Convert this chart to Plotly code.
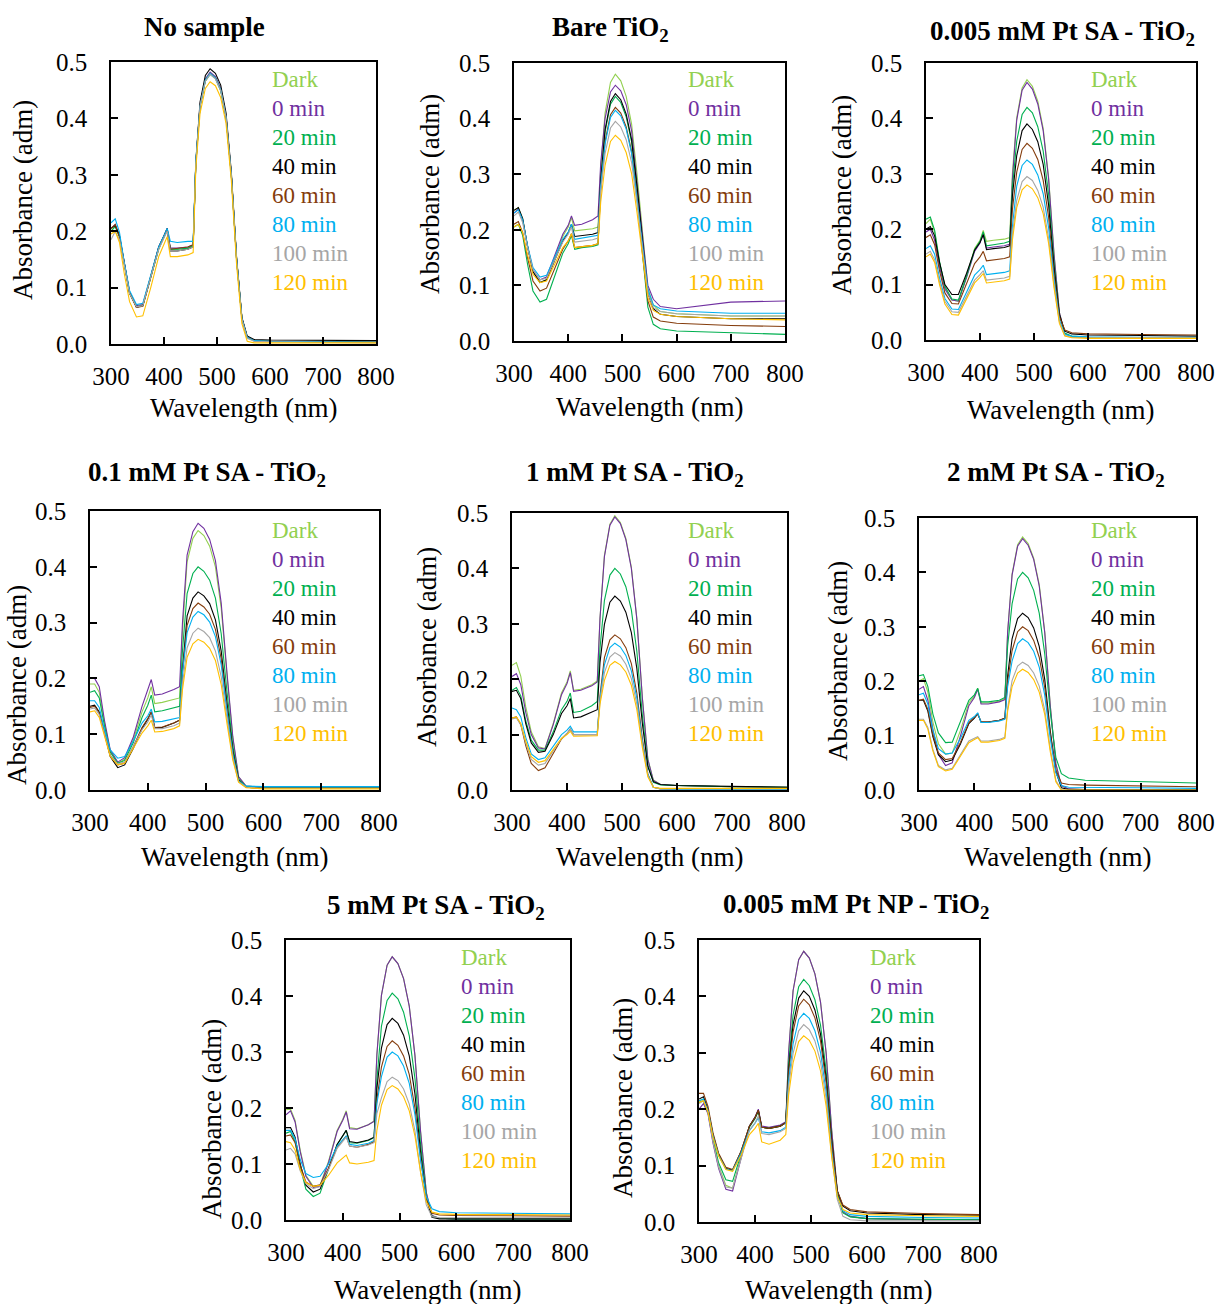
import plotly.graph_objects as go

# ---------------- data ----------------
WL = [300, 308, 316, 325, 335, 348, 360, 375, 390, 400, 406, 412, 425, 445, 455,
      460, 468, 478, 487, 497, 507, 517, 527, 537, 547, 557, 570, 600, 700, 800]

SERIES = ["Dark", "0 min", "20 min", "40 min", "60 min", "80 min", "100 min", "120 min"]
COLORS = ["#92D050", "#7030A0", "#00B050", "#000000", "#843C0C", "#00B0F0", "#A6A6A6", "#FFC000"]

TITLES = ["No sample", "Bare TiO<sub>2</sub>", "0.005 mM Pt SA - TiO<sub>2</sub>",
          "0.1 mM Pt SA - TiO<sub>2</sub>", "1 mM Pt SA - TiO<sub>2</sub>", "2 mM Pt SA - TiO<sub>2</sub>",
          "5 mM Pt SA - TiO<sub>2</sub>", "0.005 mM Pt NP - TiO<sub>2</sub>"]

X_TICKS = [300, 400, 500, 600, 700, 800]
Y_TICKS = [0.0, 0.1, 0.2, 0.3, 0.4, 0.5]

NO_SAMPLE = [
    [.200, .210, .190, .140, .090, .066, .068, .118, .170, .190, .203, .168, .168, .170, .175, .320, .422, .468, .480, .472, .451, .403, .300, .150, .045, .012, .006, .005, .004, .003],
    [.205, .212, .192, .142, .092, .068, .070, .120, .172, .192, .205, .170, .170, .172, .176, .320, .424, .470, .482, .474, .453, .405, .302, .150, .045, .012, .006, .005, .004, .003],
    [.200, .208, .190, .140, .090, .066, .068, .118, .168, .190, .202, .168, .168, .170, .175, .318, .421, .466, .478, .471, .449, .402, .300, .150, .045, .012, .006, .005, .004, .003],
    [.205, .210, .192, .142, .092, .065, .068, .120, .172, .192, .205, .165, .165, .168, .172, .322, .429, .476, .488, .480, .459, .410, .305, .153, .047, .014, .008, .007, .006, .006],
    [.205, .212, .190, .140, .090, .065, .067, .118, .170, .190, .203, .168, .170, .172, .176, .320, .422, .468, .480, .472, .451, .403, .300, .150, .045, .012, .006, .005, .004, .003],
    [.215, .222, .198, .145, .095, .070, .072, .122, .172, .192, .205, .182, .180, .182, .182, .325, .422, .468, .480, .472, .451, .403, .300, .150, .045, .012, .006, .005, .004, .003],
    [.185, .200, .185, .138, .090, .066, .068, .118, .168, .188, .200, .165, .165, .168, .172, .318, .421, .466, .478, .470, .449, .402, .298, .148, .043, .010, .005, .004, .003, .002],
    [.195, .200, .180, .125, .075, .048, .050, .100, .155, .178, .190, .155, .155, .158, .162, .310, .409, .453, .465, .458, .437, .391, .290, .140, .036, .005, .002, .002, .002, .002],
]

BARE_TIO2 = [
    [.235, .240, .220, .170, .125, .105, .110, .150, .188, .205, .222, .198, .200, .202, .205, .310, .410, .465, .480, .468, .440, .390, .300, .190, .095, .065, .053, .049, .045, .045],
    [.230, .238, .218, .170, .128, .110, .115, .153, .192, .208, .225, .208, .210, .218, .225, .320, .400, .448, .460, .450, .425, .378, .290, .190, .100, .075, .062, .058, .070, .072],
    [.205, .210, .190, .138, .090, .070, .075, .115, .158, .175, .190, .165, .168, .170, .173, .280, .376, .426, .440, .429, .403, .358, .275, .157, .061, .030, .022, .018, .015, .012],
    [.235, .240, .220, .170, .125, .105, .110, .145, .180, .195, .210, .188, .190, .192, .195, .290, .380, .431, .445, .434, .408, .362, .278, .176, .086, .058, .048, .044, .040, .040],
    [.210, .215, .195, .150, .108, .090, .095, .130, .165, .180, .193, .168, .170, .172, .175, .270, .359, .407, .420, .410, .385, .341, .263, .160, .072, .043, .036, .032, .028, .026],
    [.230, .236, .218, .172, .132, .115, .118, .150, .183, .196, .210, .183, .185, .188, .190, .280, .354, .402, .415, .405, .381, .337, .259, .173, .093, .065, .058, .054, .050, .050],
    [.225, .232, .213, .168, .128, .110, .113, .145, .178, .192, .205, .178, .180, .182, .185, .270, .337, .383, .395, .385, .362, .321, .247, .163, .086, .060, .053, .049, .045, .045],
    [.205, .210, .195, .155, .120, .105, .108, .138, .168, .180, .193, .168, .170, .172, .175, .250, .316, .359, .370, .361, .339, .301, .231, .151, .078, .055, .048, .044, .040, .038],
]

PT_SA_0005 = [
    [.210, .218, .195, .140, .095, .072, .070, .115, .165, .180, .198, .178, .180, .182, .185, .300, .401, .455, .470, .458, .431, .382, .294, .157, .050, .012, .006, .004, .003, .003],
    [.195, .200, .180, .132, .092, .072, .070, .112, .160, .175, .192, .166, .168, .170, .173, .290, .397, .451, .465, .453, .426, .378, .291, .155, .050, .012, .006, .004, .003, .003],
    [.218, .222, .198, .142, .097, .074, .072, .115, .163, .178, .195, .170, .172, .175, .178, .275, .359, .407, .420, .410, .385, .341, .263, .140, .045, .012, .007, .005, .004, .004],
    [.200, .205, .188, .140, .100, .082, .082, .120, .162, .176, .190, .163, .165, .167, .170, .260, .333, .378, .390, .380, .358, .317, .244, .132, .046, .016, .011, .009, .008, .007],
    [.185, .190, .172, .125, .085, .066, .065, .100, .138, .150, .160, .143, .145, .147, .150, .235, .303, .344, .355, .346, .326, .288, .222, .120, .042, .018, .013, .011, .010, .009],
    [.165, .170, .155, .112, .075, .056, .055, .085, .117, .127, .135, .118, .120, .122, .125, .205, .278, .315, .325, .317, .298, .264, .203, .110, .036, .010, .007, .006, .005, .005],
    [.155, .160, .145, .105, .070, .051, .050, .078, .108, .118, .125, .108, .110, .112, .115, .190, .252, .286, .295, .288, .270, .240, .184, .100, .033, .008, .005, .005, .004, .004],
    [.150, .155, .140, .100, .065, .046, .045, .073, .103, .113, .120, .103, .105, .107, .110, .180, .239, .271, .280, .273, .257, .228, .175, .095, .030, .007, .004, .003, .003, .003],
]

PT_SA_01 = [
    [.190, .190, .175, .120, .070, .048, .055, .090, .140, .165, .185, .155, .157, .162, .165, .285, .409, .451, .465, .456, .437, .400, .326, .205, .093, .023, .007, .005, .004, .004],
    [.200, .200, .185, .125, .072, .050, .058, .095, .150, .178, .198, .170, .172, .180, .185, .300, .421, .463, .478, .469, .449, .411, .335, .210, .096, .024, .007, .005, .004, .004],
    [.175, .178, .165, .115, .068, .048, .053, .085, .130, .152, .170, .140, .142, .147, .150, .250, .352, .388, .400, .392, .376, .344, .280, .176, .080, .020, .006, .004, .004, .004],
    [.150, .152, .140, .100, .060, .040, .045, .075, .110, .127, .140, .112, .112, .120, .125, .215, .312, .344, .355, .348, .334, .305, .249, .156, .071, .018, .005, .003, .003, .003],
    [.148, .150, .138, .100, .062, .045, .048, .078, .112, .128, .140, .112, .113, .120, .125, .210, .295, .325, .335, .328, .315, .288, .235, .147, .067, .017, .005, .003, .003, .003],
    [.160, .160, .148, .108, .072, .057, .060, .088, .120, .133, .145, .122, .123, .127, .130, .210, .282, .310, .320, .314, .301, .275, .224, .141, .064, .016, .007, .006, .006, .006],
    [.145, .147, .135, .098, .062, .047, .050, .078, .108, .122, .135, .110, .110, .115, .120, .190, .255, .281, .290, .284, .273, .249, .203, .128, .058, .015, .005, .003, .003, .003],
    [.140, .142, .130, .095, .060, .045, .048, .075, .102, .115, .125, .104, .105, .110, .115, .180, .238, .262, .270, .265, .254, .232, .189, .119, .054, .014, .004, .002, .002, .002],
]

PT_SA_1 = [
    [.225, .230, .205, .150, .105, .078, .075, .120, .175, .195, .215, .180, .182, .190, .197, .310, .423, .480, .495, .483, .454, .402, .310, .167, .056, .018, .010, .008, .006, .005],
    [.205, .210, .190, .140, .100, .076, .074, .118, .172, .192, .212, .178, .180, .188, .195, .310, .421, .478, .493, .481, .452, .400, .308, .166, .055, .017, .010, .008, .006, .005],
    [.180, .185, .170, .125, .090, .072, .072, .105, .145, .160, .175, .140, .142, .152, .160, .256, .342, .388, .400, .390, .367, .325, .250, .135, .045, .014, .009, .008, .006, .005],
    [.178, .180, .165, .120, .085, .068, .070, .100, .138, .152, .165, .130, .132, .140, .145, .230, .299, .339, .350, .341, .321, .284, .219, .120, .042, .015, .010, .008, .006, .005],
    [.130, .132, .118, .080, .048, .035, .040, .065, .092, .102, .110, .100, .100, .100, .100, .170, .239, .271, .280, .273, .257, .228, .175, .093, .029, .005, .002, .001, .001, .001],
    [.148, .145, .132, .095, .065, .055, .058, .080, .100, .108, .115, .105, .105, .105, .105, .165, .226, .257, .265, .258, .243, .215, .166, .088, .028, .005, .002, .001, .001, .001],
    [.128, .130, .118, .085, .055, .045, .048, .070, .093, .102, .110, .100, .100, .100, .100, .160, .212, .240, .248, .242, .227, .201, .155, .083, .026, .005, .002, .002, .002, .002],
    [.130, .132, .120, .088, .060, .050, .053, .073, .093, .100, .106, .097, .097, .097, .098, .155, .198, .225, .232, .226, .213, .189, .145, .077, .024, .005, .003, .003, .003, .003],
]

PT_SA_2 = [
    [.200, .205, .180, .125, .085, .066, .068, .110, .160, .172, .187, .160, .160, .163, .168, .290, .397, .451, .465, .453, .426, .378, .291, .155, .048, .008, .002, .001, .001, .001],
    [.185, .190, .165, .112, .065, .045, .050, .100, .155, .170, .185, .158, .158, .162, .166, .290, .395, .448, .462, .450, .424, .375, .289, .154, .048, .008, .002, .001, .001, .001],
    [.210, .212, .190, .140, .105, .087, .088, .125, .165, .175, .187, .162, .162, .165, .170, .265, .342, .388, .400, .390, .367, .325, .250, .143, .060, .030, .022, .018, .016, .013],
    [.165, .165, .145, .098, .065, .052, .055, .085, .122, .132, .140, .125, .125, .128, .132, .210, .278, .315, .325, .317, .298, .264, .203, .108, .034, .004, .001, .001, .001, .001],
    [.165, .167, .148, .102, .068, .056, .058, .088, .124, .133, .140, .125, .125, .128, .132, .200, .256, .291, .300, .293, .275, .244, .188, .103, .037, .013, .010, .009, .008, .006],
    [.175, .178, .158, .110, .076, .066, .068, .095, .128, .135, .142, .124, .124, .127, .130, .190, .237, .269, .278, .271, .255, .226, .174, .094, .032, .008, .005, .005, .004, .003],
    [.130, .130, .115, .075, .045, .037, .040, .065, .090, .095, .098, .090, .090, .093, .097, .150, .201, .228, .235, .229, .215, .191, .147, .075, .018, .000, .000, .000, .000, .000],
    [.128, .128, .112, .072, .043, .035, .038, .062, .087, .093, .096, .088, .088, .091, .095, .145, .190, .215, .222, .216, .203, .180, .139, .070, .015, .000, .000, .000, .000, .000],
]

PT_SA_5 = [
    [.197, .198, .178, .125, .080, .060, .062, .105, .160, .180, .195, .165, .163, .170, .177, .295, .401, .455, .470, .458, .431, .382, .294, .157, .049, .008, .003, .002, .002, .002],
    [.188, .195, .175, .122, .078, .058, .060, .103, .158, .178, .193, .163, .162, .170, .176, .295, .401, .455, .470, .458, .431, .382, .294, .157, .049, .008, .003, .002, .002, .002],
    [.155, .158, .140, .095, .055, .042, .048, .090, .135, .150, .160, .138, .137, .142, .147, .250, .346, .392, .405, .395, .371, .329, .253, .135, .042, .006, .003, .002, .002, .002],
    [.165, .165, .148, .100, .062, .050, .055, .092, .135, .150, .160, .140, .138, .143, .148, .235, .307, .349, .360, .351, .330, .293, .225, .120, .038, .005, .002, .002, .002, .002],
    [.150, .152, .138, .098, .068, .060, .063, .093, .130, .142, .150, .132, .130, .135, .140, .215, .273, .310, .320, .312, .293, .260, .200, .110, .040, .012, .009, .008, .007, .007],
    [.160, .160, .145, .108, .083, .076, .078, .100, .132, .143, .150, .135, .133, .137, .142, .208, .256, .291, .300, .293, .275, .244, .188, .106, .042, .020, .015, .013, .012, .011],
    [.125, .128, .118, .088, .065, .056, .060, .090, .128, .140, .148, .132, .130, .134, .138, .190, .218, .247, .255, .249, .234, .207, .159, .085, .027, .006, .004, .004, .004, .004],
    [.140, .138, .125, .090, .067, .060, .062, .080, .102, .110, .116, .102, .100, .103, .106, .160, .205, .233, .240, .234, .220, .195, .150, .085, .033, .014, .011, .010, .009, .009],
]

PT_NP_0005 = [
    [.215, .218, .195, .145, .100, .065, .060, .115, .170, .185, .198, .168, .166, .170, .176, .300, .410, .465, .480, .468, .440, .390, .300, .162, .055, .018, .010, .006, .004, .004],
    [.200, .210, .192, .140, .095, .058, .055, .112, .170, .186, .200, .170, .168, .172, .178, .300, .410, .465, .480, .468, .440, .390, .300, .162, .055, .018, .010, .006, .004, .004],
    [.212, .215, .195, .148, .105, .075, .072, .118, .168, .183, .196, .168, .166, .170, .176, .280, .367, .417, .430, .419, .394, .349, .269, .145, .050, .016, .009, .006, .005, .004],
    [.218, .222, .200, .155, .120, .095, .092, .125, .170, .185, .198, .168, .166, .170, .176, .270, .350, .397, .410, .400, .376, .333, .256, .145, .055, .028, .020, .016, .013, .012],
    [.228, .228, .205, .158, .122, .097, .093, .125, .170, .185, .198, .168, .166, .170, .176, .265, .337, .383, .395, .385, .362, .321, .247, .140, .055, .030, .022, .018, .015, .013],
    [.215, .218, .198, .152, .118, .094, .091, .122, .162, .175, .185, .160, .158, .162, .168, .250, .316, .359, .370, .361, .339, .301, .231, .125, .045, .020, .013, .010, .008, .007],
    [.210, .215, .195, .142, .098, .062, .060, .112, .163, .176, .188, .157, .155, .160, .166, .240, .299, .339, .350, .341, .321, .284, .219, .118, .040, .010, .004, .002, .002, .002],
    [.212, .215, .195, .150, .117, .093, .090, .118, .155, .166, .175, .142, .138, .145, .155, .225, .282, .320, .330, .322, .303, .268, .206, .115, .045, .022, .016, .013, .011, .010],
]

PANEL_DATA = [NO_SAMPLE, BARE_TIO2, PT_SA_0005, PT_SA_01, PT_SA_1, PT_SA_2, PT_SA_5, PT_NP_0005]

# ---------------- layout geometry (pixels of the 1219 x 1304 page) ----------------
W, H = 1219, 1304
# plot frames: (left, right, top, bottom)
FRAMES = [(111, 376, 62, 344), (514, 785, 63, 341), (926, 1196, 63, 340),
          (90, 379, 511, 790), (512, 787, 513, 790), (919, 1196, 518, 790),
          (286, 570, 940, 1220), (699, 979, 940, 1222)]
TITLE_POS = [(205, 27), (610, 29), (1062, 33), (207, 474), (635, 474), (1056, 474), (436, 907), (856, 906)]
YTITLE_POS = [(23, 200), (430, 194), (842, 195), (17, 685), (427, 647), (838, 661), (212, 1119), (623, 1098)]
XTITLE_Y = [408, 407, 410, 857, 857, 857, 1290, 1290]
LEGEND_POS = [(270, 79), (686, 79), (1089, 79), (270, 530), (686, 530), (1089, 530), (459, 957), (868, 957)]
LEG_STEP = 29.1

FONT = "Liberation Serif"


def px(x):
    return x / W


def py(y):
    return 1 - y / H


fig = go.Figure()
layout = dict(width=W, height=H, margin=dict(l=0, r=0, t=0, b=0, pad=0, autoexpand=False),
              autosize=False, template="none",
              paper_bgcolor="white", plot_bgcolor="white", showlegend=False,
              font=dict(family=FONT, color="black"))
annotations = []

for i, (data, title) in enumerate(zip(PANEL_DATA, TITLES)):
    n = i + 1
    xa = "x" if n == 1 else f"x{n}"
    ya = "y" if n == 1 else f"y{n}"
    for s, (name, col) in enumerate(zip(SERIES, COLORS)):
        vals = data[s]
        assert len(vals) == len(WL)
        fig.add_trace(go.Scatter(x=WL, y=vals, mode="lines", name=name,
                                 line=dict(color=col, width=1.1), xaxis=xa, yaxis=ya,
                                 hoverinfo="skip"))
    l, r, t, b = FRAMES[i]
    common = dict(showline=True, mirror=True, linecolor="black", linewidth=1.6,
                  ticks="inside", ticklen=7, tickwidth=1.6, tickcolor="black",
                  showgrid=False, zeroline=False, automargin=False,
                  tickfont=dict(family=FONT, size=25, color="black"))
    layout["xaxis" if n == 1 else f"xaxis{n}"] = dict(
        domain=[px(l), px(r)], range=[300, 800], tickvals=X_TICKS,
        ticktext=[str(v) for v in X_TICKS], anchor=ya, ticklabelstandoff=9, **common)
    layout["yaxis" if n == 1 else f"yaxis{n}"] = dict(
        domain=[py(b), py(t)], range=[0, 0.5], tickvals=Y_TICKS,
        ticktext=[f"{v:.1f}" for v in Y_TICKS], anchor=xa, ticklabelstandoff=17, **common)

    tx, ty = TITLE_POS[i]
    annotations.append(dict(text=f"<b>{title}</b>", x=px(tx), y=py(ty), xref="paper", yref="paper",
                            xanchor="center", yanchor="middle", showarrow=False,
                            font=dict(family=FONT, size=27, color="black")))
    yx, yy = YTITLE_POS[i]
    annotations.append(dict(text="Absorbance (adm)", x=px(yx), y=py(yy), xref="paper", yref="paper",
                            xanchor="center", yanchor="middle", textangle=-90, showarrow=False,
                            font=dict(family=FONT, size=27, color="black")))
    annotations.append(dict(text="Wavelength (nm)", x=px((l + r) / 2), y=py(XTITLE_Y[i]),
                            xref="paper", yref="paper", xanchor="center", yanchor="middle",
                            showarrow=False, font=dict(family=FONT, size=27, color="black")))
    lx, ly = LEGEND_POS[i]
    for s, (name, col) in enumerate(zip(SERIES, COLORS)):
        annotations.append(dict(text=name, x=px(lx), y=py(ly + s * LEG_STEP), xref="paper", yref="paper",
                                xanchor="left", yanchor="middle", showarrow=False,
                                font=dict(family=FONT, size=23, color=col)))

layout["annotations"] = annotations
fig.update_layout(**layout)
fig.write_html("out.html")
